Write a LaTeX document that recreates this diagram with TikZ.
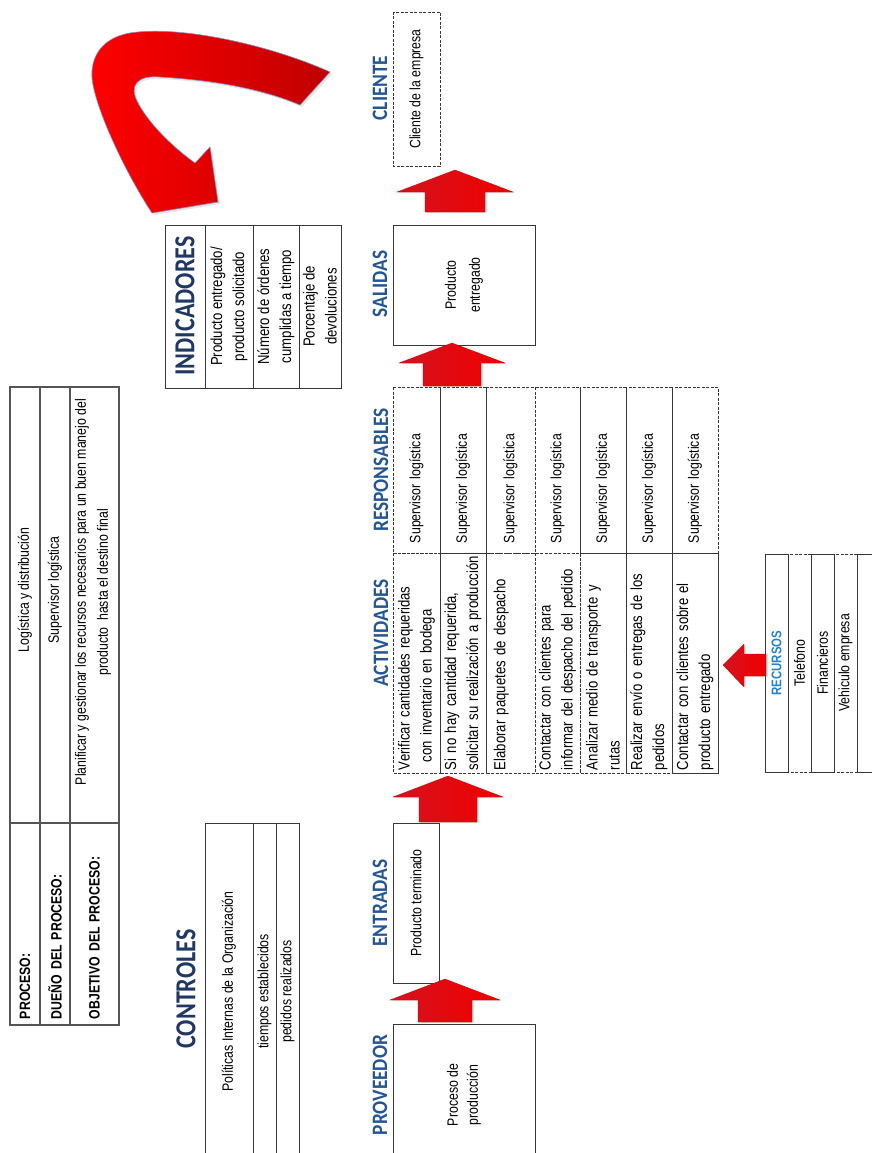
\documentclass[tikz,border=0pt]{standalone}
\usepackage{fontspec}
\usetikzlibrary{shadows}
\newfontfamily\bodyfont[FakeStretch=0.82]{Liberation Sans}
\newfontfamily\headfont[FakeStretch=0.88]{Carlito}
\newfontfamily\bigheadfont[FakeStretch=0.83]{Carlito}
\definecolor{rule}{RGB}{55,55,55}
\definecolor{headblue}{RGB}{36,86,150}
\definecolor{navy}{RGB}{31,56,100}
\definecolor{skyblue}{RGB}{40,130,205}
\definecolor{darkred}{RGB}{192,0,0}
\definecolor{edgered}{RGB}{212,18,30}
\definecolor{brightred}{RGB}{240,0,0}

% straight block arrow pointing up: centre x, tip y, head base y, tail y, half head, half shaft
\newcommand\redup[6]{%
  \path[blockarrow] (#1,#2) -- ({#1+#5},#3) -- ({#1+#6},#3) -- ({#1+#6},#4)
    -- ({#1-#6},#4) -- ({#1-#6},#3) -- ({#1-#5},#3) -- cycle;}

\begin{document}
\begin{tikzpicture}[x=1pt,y=-1pt,
  cell/.style={rotate=90, draw=rule, line width=0.8pt, inner sep=0pt, outer sep=0pt,
    align=center, font=\bodyfont\fontsize{15}{20}\selectfont},
  dcell/.style={cell, dash pattern=on 3pt off 1.5pt},
  ptab/.style={cell, line width=1.6pt, draw=rule!85},
  labfont/.style={font=\bodyfont\bfseries\fontsize{15}{20}\selectfont},
  actfont/.style={font=\bodyfont\fontsize{16}{22}\selectfont},
  txt/.style={rotate=90, inner sep=0pt, align=center, font=\bodyfont\fontsize{15}{22}\selectfont},
  title/.style={rotate=90, inner sep=0pt, text=headblue,
    font=\headfont\bfseries\fontsize{22}{26}\selectfont},
  bigtitle/.style={rotate=90, inner sep=0pt, text=navy,
    font=\bigheadfont\bfseries\fontsize{29}{32}\selectfont},
  blockarrow/.style={left color=edgered, middle color=red, right color=brightred,
    draw=red!80!black, line width=0.3pt,
    drop shadow={opacity=0.25, shadow xshift=1.5pt, shadow yshift=-1pt}},
  bigarrow/.style={left color=red, right color=darkred,
    draw=blue!30!gray!70, line width=0.6pt,
    drop shadow={opacity=0.2, shadow xshift=2pt, shadow yshift=-2pt}}
]
\useasboundingbox (0,0) rectangle (872,1153);
\fill[white] (0,0) rectangle (872,1153);

% ---------- process header table ----------
\node[ptab, labfont, minimum width=202pt, minimum height=30pt, text width=190pt, align=left] (procL) at (25,924) {PROCESO:};
\node[ptab, labfont, minimum width=202pt, minimum height=30pt, text width=190pt, align=left] (duenoL) at (55,924) {DUEÑO DEL PROCESO:};
\node[ptab, labfont, minimum width=202pt, minimum height=49pt, text width=190pt, align=left] (objL) at (94.5,924) {OBJETIVO DEL PROCESO:};
\node[ptab, minimum width=436pt, minimum height=30pt] (procV) at (25,605) {};
\node[ptab, minimum width=436pt, minimum height=30pt] (duenoV) at (55,605) {};
\node[ptab, minimum width=436pt, minimum height=49pt] (objV) at (94.5,605) {};
\node[txt] (procT) at (25,590) {Logística y distribución};
\node[txt] (duenoT) at (55,590) {Supervisor logística};
\node[txt] (objT) at (93,592) {Planificar y gestionar los recursos necesarios para un buen manejo del\\producto\ \ hasta el destino final};

% ---------- controls ----------
\node[bigtitle] (controles) at (186,989) {CONTROLES};
\node[cell, minimum width=337pt, minimum height=48pt] (c1) at (229,991.5) {Políticas Internas de la Organización};
\node[cell, minimum width=337pt, minimum height=23pt] (c2) at (264.5,991.5) {tiempos establecidos};
\node[cell, minimum width=337pt, minimum height=23pt] (c3) at (287.5,991.5) {pedidos realizados};

% ---------- indicators ----------
\node[cell, line width=1pt, minimum width=163pt, minimum height=40pt] (i0) at (185,306.5) {};
\node[bigtitle] (indicadores) at (185,306) {INDICADORES};
\node[cell, line width=1pt, minimum width=163pt, minimum height=48pt, font=\bodyfont\fontsize{16}{22}\selectfont] (i1) at (229,306.5) {Producto entregado/\\producto solicitado};
\node[cell, line width=1pt, minimum width=163pt, minimum height=46pt, font=\bodyfont\fontsize{16}{22}\selectfont] (i2) at (276,306.5) {Número de órdenes\\cumplidas a tiempo};
\node[cell, line width=1pt, minimum width=163pt, minimum height=42pt, font=\bodyfont\fontsize{16}{22}\selectfont] (i3) at (320,306.5) {Porcentaje de\\devoluciones};

% ---------- section titles ----------
\node[title] (tProv) at (380,1085) {PROVEEDOR};
\node[title] (tEnt) at (380,903) {ENTRADAS};
\node[title] (tAct) at (381,633) {ACTIVIDADES};
\node[title] (tResp) at (381,470) {RESPONSABLES};
\node[title] (tSal) at (380,284) {SALIDAS};
\node[title] (tCli) at (380,88) {CLIENTE};

% ---------- main flow boxes ----------
\node[cell, minimum width=142pt, minimum height=142pt] (prov) at (464,1095) {Proceso de\\producción};
\node[cell, minimum width=160pt, minimum height=46pt] (ent) at (416,903) {Producto terminado};
\node[cell, minimum width=120pt, minimum height=142pt, font=\bodyfont\fontsize{15}{24}\selectfont] (sal) at (464,285) {Producto\\entregado};
\node[dcell, minimum width=154pt, minimum height=47pt] (cli) at (416.5,89) {Cliente de la empresa};

% ---------- activities ----------
\node[dcell, actfont, minimum width=220pt, minimum height=47pt, text width=214pt, inner xsep=3pt, align=left] (a1) at (416.5,663) {Verificar cantidades requeridas\\\hspace*{8pt}con inventario en bodega};
\node[dcell, actfont, minimum width=220pt, minimum height=46pt, text width=214pt, inner xsep=3pt, align=left] (a2) at (463,663) {Si no hay cantidad requerida,\\solicitar su realización a producción};
\node[dcell, actfont, minimum width=220pt, minimum height=49pt, text width=214pt, inner xsep=3pt, align=left] (a3) at (510.5,663) {Elaborar paquetes de despacho\\\mbox{}};
\node[dcell, actfont, minimum width=220pt, minimum height=45pt, text width=214pt, inner xsep=3pt, align=left] (a4) at (557.5,663) {Contactar con clientes para\\informar del despacho del pedido};
\node[dcell, actfont, minimum width=220pt, minimum height=46pt, text width=214pt, inner xsep=3pt, align=left] (a5) at (603,663) {Analizar medio de transporte y\\rutas};
\node[dcell, actfont, minimum width=220pt, minimum height=46pt, text width=214pt, inner xsep=3pt, align=left] (a6) at (649,663) {Realizar envío o entregas de los\\pedidos};
\node[cell, actfont, minimum width=220pt, minimum height=46pt, text width=214pt, inner xsep=3pt, align=left] (a7) at (695,663) {Contactar con clientes sobre el\\producto entregado};

% ---------- responsible ----------
\foreach \n/\cx/\w in {1/416.5/47, 2/463/46, 3/510.5/49, 4/557.5/45, 5/603/46, 6/649/46, 7/695/46}{
  \node[dcell, minimum width=166pt, minimum height=\w pt, text width=146pt, inner xsep=10pt, align=left] (r\n) at (\cx,470) {Supervisor logística};
}
\foreach \n in {1,2,4,5,6}{
  \draw[rule, line width=0.8pt] (r\n.south west) -- (r\n.south east);
}

% ---------- resources ----------
\node[cell, minimum width=218pt, minimum height=23pt, text=skyblue, font=\bodyfont\bfseries\fontsize{14}{20}\selectfont] (rec0) at (776.5,663) {RECURSOS};
\node[dcell, minimum width=218pt, minimum height=23pt] (rec1) at (799.5,663) {Telefono};
\node[cell, minimum width=218pt, minimum height=23pt] (rec2) at (822.5,663) {Financieros};
\node[dcell, minimum width=218pt, minimum height=23pt] (rec3) at (845.5,663) {Vehiculo empresa};
\node[cell, minimum width=218pt, minimum height=23pt] (rec4) at (868.5,663) {};

% ---------- block arrows ----------
\redup{445}{979}{1000}{1022}{55}{27}
\redup{448}{776}{797}{822}{55}{29}
\redup{452}{343}{363}{386}{53}{29}
\redup{455}{170}{192}{212}{58}{30}
\path[blockarrow] (723,665) -- (744,644) -- (744,654) -- (766,654) -- (766,676) -- (744,676) -- (744,687) -- cycle;

% ---------- curved arrow towards the indicators ----------
\path[bigarrow] (330,72) .. controls (270,45) and (180,25) .. (130,33)
  .. controls (100,38) and (88,60) .. (93,85)
  .. controls (100,120) and (130,180) .. (152,213)
  -- (218,202) -- (210,147) -- (195,163)
  .. controls (170,145) and (148,122) .. (138,103)
  .. controls (128,85) and (138,75) .. (160,77)
  .. controls (210,80) and (260,88) .. (300,105) -- cycle;
\end{tikzpicture}
\end{document}
